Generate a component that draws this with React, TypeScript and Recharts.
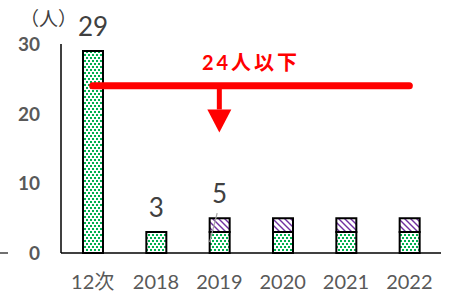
import { Bar, BarChart, LabelList, ReferenceLine, Label, XAxis, YAxis } from 'recharts';

const categories = ['12次', '2018', '2019', '2020', '2021', '2022'];
const greenValues = [29, 3, 3, 3, 3, 3];
const purpleValues = [0, 0, 2, 2, 2, 2];
const totalLabels = ['29', '3', '5', '', '', ''];
const yTicks = [0, 10, 20, 30];
const targetValue = 24;
const targetText = '24人以下';
const arrowTo = 17.3;

const data = categories.map((name, i) => ({
  name,
  green: greenValues[i],
  purple: purpleValues[i],
}));

const font = "Lato, 'Noto Sans CJK JP', sans-serif";

const YTick = (props: any) => {
  const { x, y, payload } = props;
  return (
    <g>
      {payload.value === 0 && <line x1={0} x2={8} y1={y} y2={y} stroke="#404040" strokeWidth={1.5} />}
      <text x={x} y={y} dy={7} textAnchor="end" fill="#595959" fontSize={19} fontWeight="bold" fontFamily={font}>
        {payload.value}
      </text>
    </g>
  );
};

// onTop: true for the label drawn from the purple segment
const makeLabel = (onTop: boolean) => (props: any) => {
  const { x, y, width, value } = props;
  const i = categories.indexOf(value);
  if (i < 0 || !totalLabels[i]) return null;
  if ((purpleValues[i] > 0) !== onTop) return null;
  const cx = Number(x) + Number(width) / 2;
  const top = Number(y);
  return (
    <g>
      {onTop && <line x1={cx - 2.5} y1={top - 5} x2={cx - 10} y2={top + 24} stroke="#a6a6a6" strokeWidth={1.2} />}
      <text x={cx} y={top - 15} textAnchor="middle" fill="#404040" fontSize={26} fontFamily={font}>
        {totalLabels[i]}
      </text>
    </g>
  );
};

const Arrow = (props: any) => {
  const { x1, y1, x2, y2 } = props;
  const head = 23;
  return (
    <g>
      <line x1={x1} y1={y1} x2={x2} y2={y2 - head} stroke="#ff0000" strokeWidth={5} />
      <polygon points={`${x2 - 12},${y2 - head} ${x2 + 12},${y2 - head} ${x2},${y2}`} fill="#ff0000" />
    </g>
  );
};

const App = () => {
  return (
    <div style={{ position: 'absolute', left: 0, top: 0, width: 454, height: 298 }}>
      <div style={{ position: 'absolute', left: 20, top: 4, fontSize: 19, color: '#404040', fontFamily: font }}>（人）</div>
      <BarChart width={454} height={298} data={data} margin={{ top: 44, right: 13, bottom: 0, left: 0 }} barSize={20}>
        <defs>
          <pattern id="dots" width={4} height={6} patternUnits="userSpaceOnUse">
            <rect width={4} height={6} fill="#ffffff" />
            <rect x={0} y={0} width={2} height={2} fill="#00b050" />
            <rect x={2} y={3} width={2} height={2} fill="#00b050" />
          </pattern>
          <pattern id="hatch" width={6} height={6} patternUnits="userSpaceOnUse">
            <rect width={6} height={6} fill="#ffffff" />
            <path d="M0,0 L6,6 M-1,5 L1,7 M5,-1 L7,1" stroke="#7030a0" strokeWidth={1.4} />
          </pattern>
        </defs>
        <XAxis
          dataKey="name"
          height={45}
          tickLine={false}
          axisLine={{ stroke: '#000000', strokeWidth: 1.5 }}
          tick={{ fill: '#595959', fontSize: 20, fontFamily: font }}
          tickMargin={16}
        />
        <YAxis
          width={61}
          domain={[0, 30]}
          ticks={yTicks}
          tickLine={false}
          tickSize={0}
          tickMargin={21}
          axisLine={{ stroke: '#000000', strokeWidth: 1.5 }}
          tick={<YTick />}
        />
        <Bar dataKey="green" stackId="a" fill="url(#dots)" stroke="#000000" strokeWidth={2} isAnimationActive={false}>
          <LabelList dataKey="name" content={makeLabel(false)} />
        </Bar>
        <Bar dataKey="purple" stackId="a" fill="url(#hatch)" stroke="#000000" strokeWidth={2} isAnimationActive={false}>
          <LabelList dataKey="name" content={makeLabel(true)} />
        </Bar>
        <ReferenceLine
          segment={[{ x: '12次', y: targetValue }, { x: '2022', y: targetValue }]}
          stroke="#ff0000"
          strokeWidth={7}
          strokeLinecap="round"
        >
          <Label value={targetText} position="top" offset={16} fill="#ff0000" fontSize={20} fontWeight="bold" letterSpacing={3} fontFamily={font} />
        </ReferenceLine>
        <ReferenceLine
          segment={[{ x: '2019', y: targetValue }, { x: '2019', y: arrowTo }]}
          shape={<Arrow />}
        />
      </BarChart>
    </div>
  );
};

export default App;
